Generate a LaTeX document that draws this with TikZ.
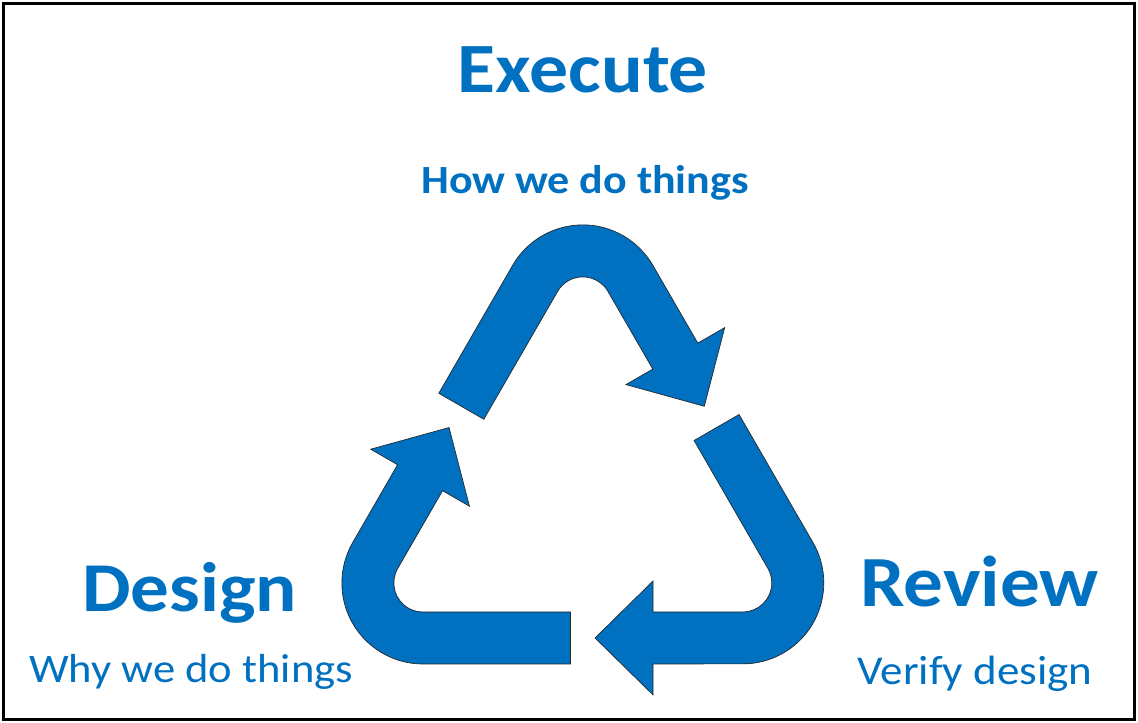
\documentclass[tikz,border=0pt]{standalone}
\usepackage{fontspec}
\setmainfont{Carlito}
\usepackage{tikz}
\usetikzlibrary{positioning}
\definecolor{CycleBlue}{HTML}{0070C0}
\tikzset{
  cyclearrow/.style={fill=CycleBlue, draw=black!85, line width=0.5pt, line join=miter},
  headline/.style={text=CycleBlue, font=\fontsize{54}{60}\selectfont\bfseries, inner sep=0pt, xscale=1.1, transform shape},
  subline/.style={text=CycleBlue, font=\fontsize{30}{36}\selectfont, inner sep=0pt, xscale=1.1, transform shape}
}
\begin{document}
\begin{tikzpicture}[x=0.75pt, y=0.75pt]
  \useasboundingbox (0,0) rectangle (1138,723);
  \draw[line width=2.25pt] (3.5,3.5) rectangle (1134.5,719.5);
  % three bent arrows, one turned about the centre of the triangle
  \foreach \turn in {0,-120,-240} {
    \begin{scope}[shift={(582.8,232.4)}, rotate=\turn]
      \draw[cyclearrow] (-144,97.3) -- (-70.2,225.2)
        arc[start angle=150, end angle=30, radius=81]
        -- (115,147.5) -- (141.9,163) -- (121.5,84.3) -- (43.1,106) -- (70,121.5)
        -- (25.1,199.2) arc[start angle=30, end angle=150, radius=29]
        -- (-99,71.3) -- cycle;
    \end{scope}
  }
  \node[headline, font=\fontsize{53}{60}\selectfont\bfseries, anchor=base] (execute) at (583,630) {Execute};
  \node[subline, font=\fontsize{30}{36}\selectfont\bfseries, anchor=base] (execsub) at (585,529) {How we do things};
  \node[headline, font=\fontsize{52.5}{60}\selectfont\bfseries, anchor=base west] (design) at (82,111) {Design};
  \node[subline, font=\fontsize{30.4}{36}\selectfont, anchor=base west] (designsub) at (29,40) {Why we do things};
  \node[headline, anchor=base west] (review) at (860,116) {Review};
  \node[subline, font=\fontsize{30.7}{36}\selectfont, anchor=base west] (reviewsub) at (857,38) {Verify design};
\end{tikzpicture}
\end{document}
